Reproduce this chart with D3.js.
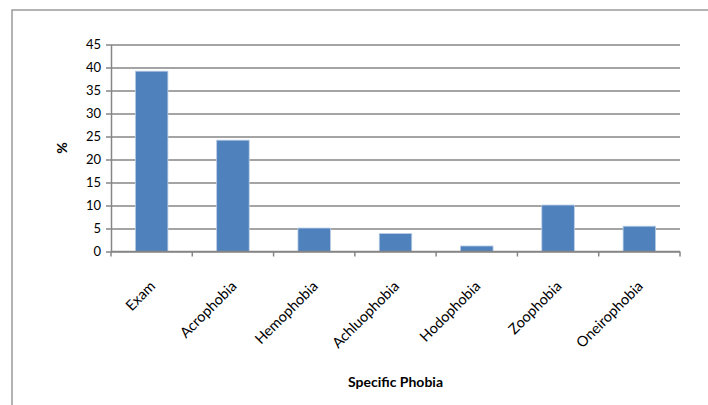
<!DOCTYPE html>
<html><head><meta charset="utf-8">
<script src="https://cdn.jsdelivr.net/npm/d3@7"></script>
<style>body{margin:0;background:#fff}svg{display:block}text{font-family:Lato,"Open Sans",sans-serif;fill:#000}</style>
</head><body><svg id="c" width="708" height="405"></svg>
<script>
const categories = ["Exam","Acrophobia","Hemophobia","Achluophobia","Hodophobia","Zoophobia","Oneirophobia"];
const values = [39.2, 24.2, 5.1, 3.9, 1.2, 10.1, 5.5];
const yTicks = [0,5,10,15,20,25,30,35,40,45];
const xTitle = "Specific Phobia";
const yTitle = "%";

const svg = d3.select("#c");
const m = {left:111, right:680, top:44.5, bottom:251.5};
svg.append("rect").attr("x",12).attr("y",10).attr("width",720).attr("height",420)
  .attr("fill","none").attr("stroke","#9a9a9a").attr("stroke-width",1.5);

const x = d3.scaleBand().domain(categories).range([m.left,m.right]).paddingInner(0.6).paddingOuter(0.3);
const y = d3.scaleLinear().domain([0,45]).range([m.bottom,m.top]);

// gridlines + y ticks
const yAxis = d3.axisLeft(y).tickValues(yTicks).tickSize(-(m.right-m.left)).tickSizeOuter(0).tickPadding(10);
const gy = svg.append("g").attr("transform",`translate(${m.left},0)`).call(yAxis);
gy.select(".domain").attr("stroke","#868686").attr("stroke-width",1.5);
gy.selectAll(".tick line").attr("stroke","#868686").attr("stroke-width",1.5).attr("x1",-5);
gy.selectAll(".tick text").attr("font-size",13);

// bars
svg.append("g").selectAll("rect").data(categories).join("rect")
  .attr("x",d=>x(d)).attr("width",x.bandwidth())
  .attr("y",(d,i)=>y(values[i])).attr("height",(d,i)=>y(0)-y(values[i]))
  .attr("fill","#4F81BD").attr("stroke","#B9CDE5").attr("stroke-width",0.8);

// x axis
const bounds = d3.range(categories.length+1).map(i=>m.left + i*(m.right-m.left)/categories.length);
const gx = svg.append("g");
gx.append("line").attr("x1",m.left).attr("x2",m.right).attr("y1",y(0)).attr("y2",y(0))
  .attr("stroke","#868686").attr("stroke-width",1.5);
gx.selectAll("line.t").data(bounds).join("line").attr("class","t")
  .attr("x1",d=>d).attr("x2",d=>d).attr("y1",y(0)).attr("y2",y(0)+5)
  .attr("stroke","#868686").attr("stroke-width",1.5);
gx.selectAll("text").data(categories).join("text")
  .attr("transform",d=>`translate(${x(d)+x.bandwidth()/2+1},${y(0)+32}) rotate(-45)`)
  .attr("text-anchor","end").attr("dy","0.35em").attr("font-size",14.5).text(d=>d);

svg.append("text").attr("x",(m.left+m.right)/2).attr("y",387).attr("text-anchor","middle")
  .attr("font-size",14).attr("font-weight","bold").text(xTitle);
svg.append("text").attr("transform",`translate(67,148) rotate(-90)`).attr("text-anchor","middle")
  .attr("font-size",14).attr("font-weight","bold").text(yTitle);
</script></body></html>
